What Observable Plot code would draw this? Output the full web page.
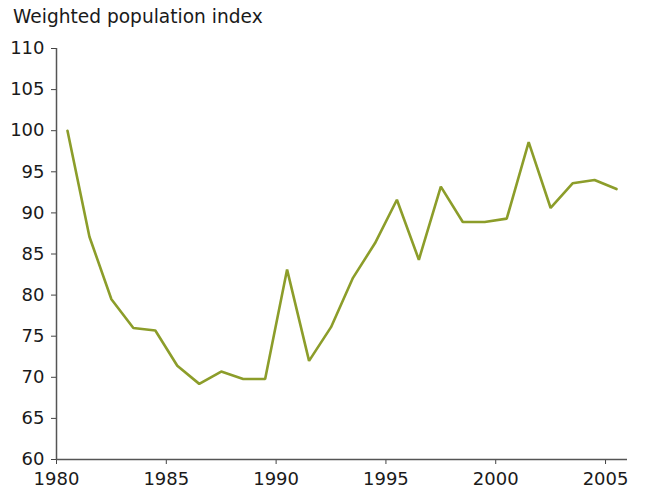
<!DOCTYPE html>
<html>
<head>
<meta charset="utf-8">
<script src="https://cdn.jsdelivr.net/npm/d3@7"></script>
<script src="https://cdn.jsdelivr.net/npm/@observablehq/plot@0.6"></script>
<style>
  body { margin: 0; background: #fff; }
  #wrap { position: relative; width: 645px; height: 492px; font-family: "DejaVu Sans", Verdana, sans-serif; }
  #title { position: absolute; left: 13px; top: 6px; font-size: 18.6px; color: #1a1a1a; white-space: nowrap; }
  #chart { position: absolute; left: 0; top: 0; }
</style>
</head>
<body>
<div id="wrap">
  <div id="chart"></div>
  <div id="title">Weighted population index</div>
</div>
<script>
const years = [1980,1981,1982,1983,1984,1985,1986,1987,1988,1989,1990,1991,1992,1993,1994,1995,1996,1997,1998,1999,2000,2001,2002,2003,2004,2005];
const index = [100,87.1,79.5,76.0,75.7,71.4,69.2,70.7,69.8,69.8,83.1,72.0,76.1,82.1,86.3,91.6,84.3,93.2,88.9,88.9,89.3,98.6,90.6,93.6,94.0,92.9];
const xTicks = [1980,1985,1990,1995,2000,2005];
const yTicks = [60,65,70,75,80,85,90,95,100,105,110];

const data = years.map((y, i) => ({year: y + 0.5, value: index[i]}));

const chart = Plot.plot({
  width: 645,
  height: 492,
  marginLeft: 56,
  marginRight: 18,
  marginTop: 48,
  marginBottom: 33,
  style: {fontFamily: "'DejaVu Sans', Verdana, sans-serif", fontSize: "18px", color: "#1a1a1a", background: "#fff"},
  x: {domain: [1980, 2006]},
  y: {domain: [60, 110]},
  marks: [
    Plot.axisX({ticks: xTicks, tickFormat: d => String(d), tickSize: 5, tickPadding: 8, label: null, stroke: "#444"}),
    Plot.axisY({ticks: yTicks, tickSize: 5, tickPadding: 7, label: null, stroke: "#444"}),
    Plot.ruleX([1980], {stroke: "#555", strokeWidth: 1.5}),
    Plot.ruleY([60], {stroke: "#555", strokeWidth: 1.5}),
    Plot.line(data, {x: "year", y: "value", stroke: "#8c9d2a", strokeWidth: 2.6, strokeLinejoin: "miter"})
  ]
});
document.getElementById("chart").appendChild(chart);
</script>
</body>
</html>
